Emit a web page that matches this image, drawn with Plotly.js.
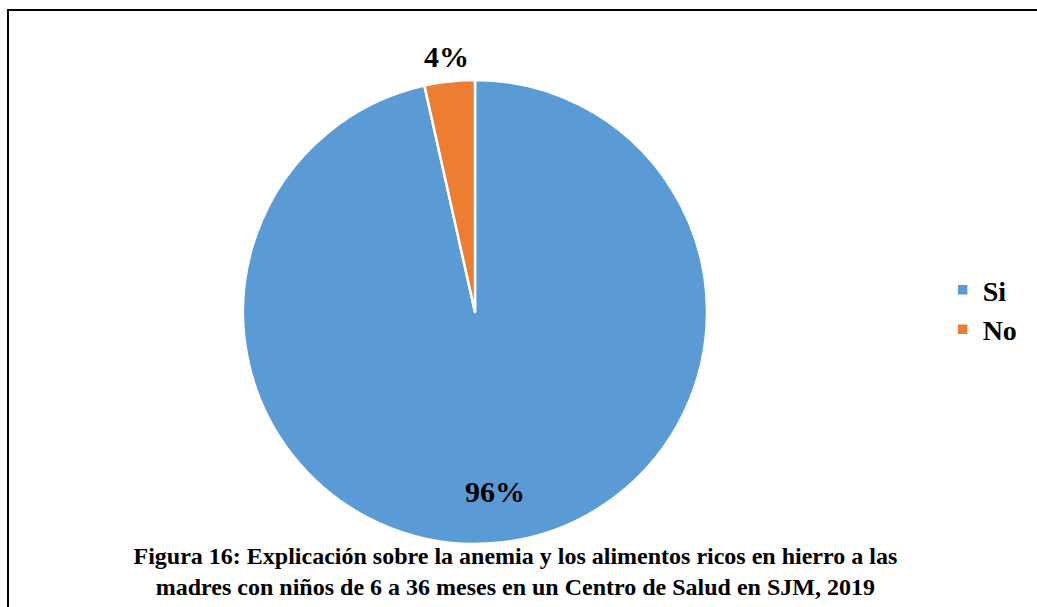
<!DOCTYPE html>
<html>
<head>
<meta charset="utf-8">
<script src="https://cdn.plot.ly/plotly-3.0.1.min.js"></script>
<style>
  html, body { margin: 0; padding: 0; background: #fff; }
  #wrap { position: relative; width: 1037px; height: 607px; overflow: hidden; }
  #chart { position: absolute; left: 0; top: 0; width: 1037px; height: 607px; }
  #frame { position: absolute; left: 7px; top: 9px; width: 1040px; height: 620px;
           border-top: 2px solid #000; border-left: 2px solid #000; pointer-events: none; }
</style>
</head>
<body>
<div id="wrap">
  <div id="chart"></div>
  <div id="frame"></div>
</div>
<script>
const categories = ["Si", "No"];
const values = [96.5, 3.5];
const valueLabels = ["96%", "4%"];
const colors = ["#5B9BD5", "#ED7D31"];
const titleText = "Figura 16: Explicación sobre la anemia y los alimentos ricos en hierro a las<br>madres con niños de 6 a 36 meses en un Centro de Salud en SJM, 2019";

const W = 1037, H = 607;
const cx = 475, cy = 312, R = 232;
const FONT = "'Liberation Serif', 'Times New Roman', serif";

const trace = {
  type: "pie",
  labels: categories,
  values: values,
  textinfo: "none",
  sort: false,
  direction: "clockwise",
  rotation: 0,
  marker: { colors: colors, line: { color: "#ffffff", width: 2.5 } },
  automargin: false,
  showlegend: true,
  hoverinfo: "skip",
  domain: {
    x: [(cx - R) / W, (cx + R) / W],
    y: [(H - cy - R) / H, (H - cy + R) / H]
  }
};

// data labels placed at each slice's mid-angle (radius factor: inside / outside)
const radiusFactor = [0.78, 1.11];
const total = values.reduce((a, b) => a + b, 0);
let cum = 0;
const annotations = values.map((v, i) => {
  const mid = (cum + v / 2) / total;
  cum += v;
  const ang = mid * 2 * Math.PI;
  const rr = radiusFactor[i] * R;
  return {
    xref: "paper", yref: "paper",
    x: (cx + rr * Math.sin(ang)) / W,
    y: (H - (cy - rr * Math.cos(ang))) / H,
    xanchor: "center", yanchor: "middle",
    text: valueLabels[i], showarrow: false,
    font: { family: FONT, size: 30, color: "#000", weight: "bold" }
  };
});

const layout = {
  width: W, height: H,
  margin: { l: 0, r: 0, t: 0, b: 0 },
  paper_bgcolor: "#fff",
  font: { family: FONT, color: "#000" },
  title: {
    text: titleText,
    font: { family: FONT, size: 24, color: "#000", weight: "bold" },
    x: 0.497, xanchor: "center",
    y: 1 - 564 / H, yanchor: "middle",
    yref: "container"
  },
  legend: {
    x: 0.909, xanchor: "left",
    y: 0.49, yanchor: "middle",
    font: { family: FONT, size: 28, color: "#000", weight: "bold" },
    itemwidth: 30,
    bgcolor: "rgba(0,0,0,0)"
  },
  annotations: annotations
};

Plotly.newPlot("chart", [trace], layout, { staticPlot: true, displayModeBar: false });
</script>
</body>
</html>
